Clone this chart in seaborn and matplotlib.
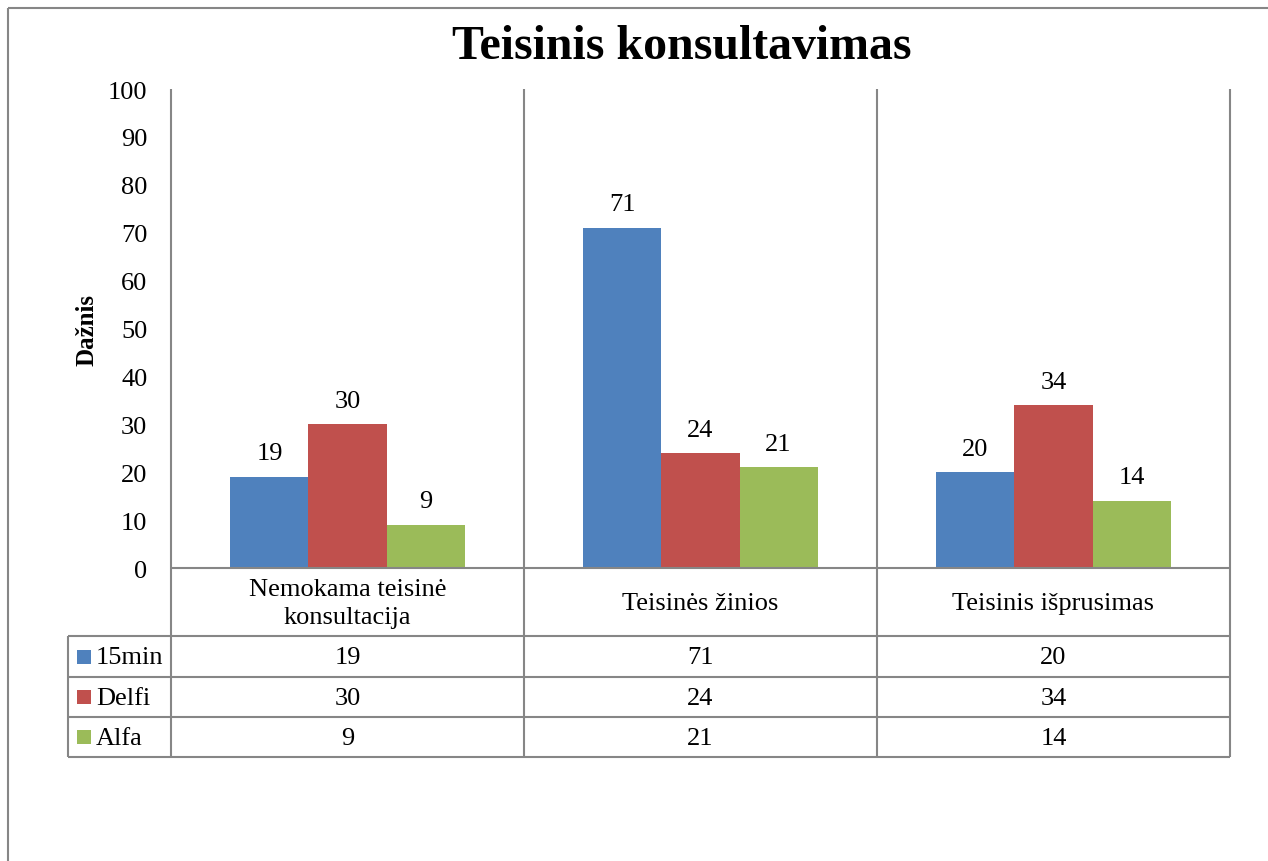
import matplotlib
matplotlib.use("Agg")
import matplotlib.pyplot as plt
import seaborn as sns
import pandas as pd
from matplotlib.lines import Line2D
from matplotlib.patches import Rectangle

categories = ["Nemokama teisinė\nkonsultacija", "Teisinės žinios", "Teisinis išprusimas"]
series = ["15min", "Delfi", "Alfa"]
values_15min = [19, 71, 20]
values_delfi = [30, 24, 34]
values_alfa = [9, 21, 14]
colors = ["#4F81BD", "#C0504D", "#9BBB59"]
yticks = [0, 10, 20, 30, 40, 50, 60, 70, 80, 90, 100]
title = "Teisinis konsultavimas"
ylabel = "Dažnis"

all_values = [values_15min, values_delfi, values_alfa]
rows = []
for s, vals in zip(series, all_values):
    for c, v in zip(categories, vals):
        rows.append({"cat": c, "series": s, "val": v})
df = pd.DataFrame(rows)

sns.set_theme(style="white")
plt.rcParams["font.family"] = ["Liberation Serif", "DejaVu Serif"]

W, H = 1268, 862
fig = plt.figure(figsize=(W / 100, H / 100), dpi=100)

def fx(x):
    return x / W

def fy(y):
    return 1 - y / H

L, R, T, B = 171, 1230, 90, 569
ax = fig.add_axes([fx(L), fy(B), fx(R) - fx(L), fy(T) - fy(B)])
sns.barplot(data=df, x="cat", y="val", hue="series", order=categories,
            hue_order=series, palette=colors, width=0.663, saturation=1,
            ax=ax, legend=False, linewidth=0)
ax.set_xlim(-0.5, len(categories) - 0.5)
ax.set_ylim(0, 100)
ax.set_yticks(yticks)
fs = 19
ax.tick_params(axis="y", length=0, pad=17, labelsize=fs, colors="black")
ax.set_xticks([])
ax.set_xlabel("")
ax.set_ylabel(ylabel, fontsize=18, fontweight="bold", color="black")
ax.yaxis.set_label_coords(-0.068, 0.5)
for sp in ax.spines.values():
    sp.set_visible(False)
ax.patch.set_alpha(0)

for cont in ax.containers:
    ax.bar_label(cont, padding=9, fontsize=fs, color="black")

gray = "#868686"
lw = 1.5

def line(x0, y0, x1, y1, c=gray, w=lw):
    fig.add_artist(Line2D([fx(x0), fx(x1)], [fy(y0), fy(y1)],
                          transform=fig.transFigure, color=c, linewidth=w,
                          solid_capstyle="butt"))

# outer chart border
line(8, 9, 1268, 9)
line(8, 9, 8, 862)

# table / plot grid
col_edges = [L, 524, 877, R]
row_edges = [B, 637, 678, 718, 758]
for x in col_edges:
    line(x, T, x, 758)
line(68, 637, 68, 758)
line(L, B, R, B)
for y in row_edges[1:]:
    line(68, y, R, y)

# category headers
for i, c in enumerate(categories):
    cx = (col_edges[i] + col_edges[i + 1]) / 2
    fig.text(fx(cx), fy(604), c, ha="center", va="center", fontsize=fs,
             linespacing=1.3, color="black")

# data rows
for r, (s, vals, col) in enumerate(zip(series, all_values, colors)):
    cy = (row_edges[r + 1] + row_edges[r + 2]) / 2
    fig.add_artist(Rectangle((fx(77), fy(cy + 7)), fx(14), 14 / H,
                             transform=fig.transFigure, facecolor=col,
                             edgecolor="none"))
    fig.text(fx(96), fy(cy + 1), s, ha="left", va="center", fontsize=fs, color="black")
    for i, v in enumerate(vals):
        cx = (col_edges[i] + col_edges[i + 1]) / 2
        fig.text(fx(cx), fy(cy + 1), str(v), ha="center", va="center",
                 fontsize=fs, color="black")

fig.text(fx(682), fy(59), title, ha="center", va="baseline", fontsize=34.5,
         fontweight="bold", color="black")

fig.savefig("out.png", dpi=100)
